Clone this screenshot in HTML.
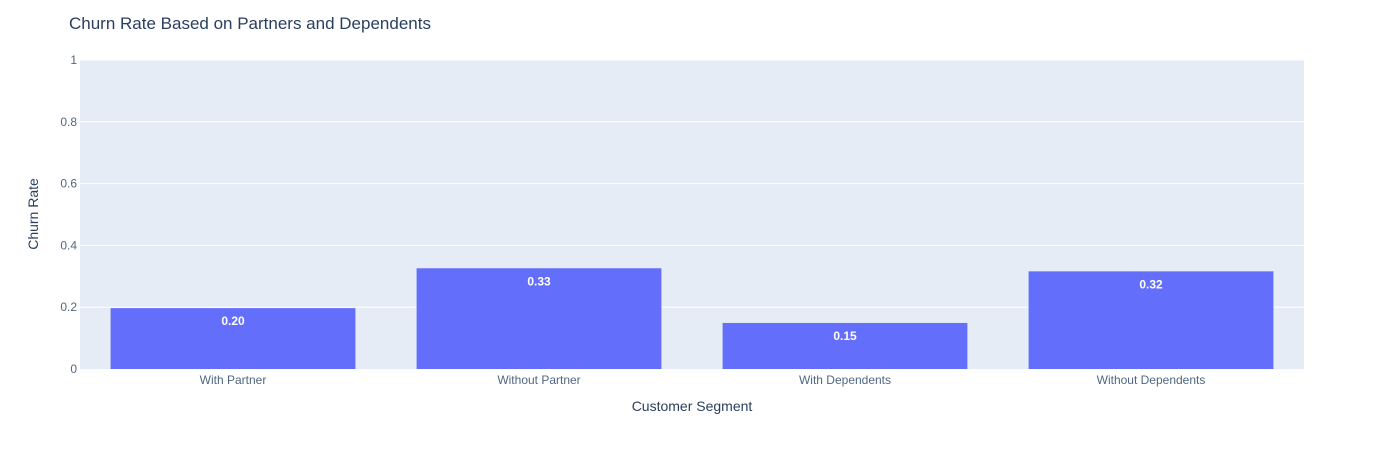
<!DOCTYPE html>
<html><head><meta charset="utf-8"><style>
body{margin:0;background:#fff;}
svg{display:block;font-family:"Liberation Sans",sans-serif;}
</style></head><body>
<svg id="chart" width="1384" height="450">
<rect x="0" y="0" width="1384" height="450" fill="#fff"/>
<text x="69" y="29" font-size="17" fill="#2a3f5f">Churn Rate Based on Partners and Dependents</text>
<rect x="80" y="60" width="1224" height="309" fill="#e5ecf6"/>
<g id="grid"></g><g id="bars"></g><g id="xt"></g>
<text x="692" y="411" font-size="14" fill="#2a3f5f" text-anchor="middle">Customer Segment</text>
<text transform="translate(38,214) rotate(-90)" font-size="14" fill="#2a3f5f" text-anchor="middle">Churn Rate</text>
</svg>
<script>
const categories = ["With Partner","Without Partner","With Dependents","Without Dependents"];
const values = [0.197, 0.326, 0.149, 0.316];
const yTicks = [0, 0.2, 0.4, 0.6, 0.8, 1];
const yTickLabels = ["0","0.2","0.4","0.6","0.8","1"];
const NS="http://www.w3.org/2000/svg";
const L=80,R=1304,T=60,B=369;
const y=v=>B-(v/1)*(B-T);
const step=(R-L)/categories.length;
const x=i=>L+step*i+step/2;
function mk(t,a,p){const e=document.createElementNS(NS,t);for(const k in a)e.setAttribute(k,a[k]);p.appendChild(e);return e;}
const grid=document.getElementById('grid');
yTicks.forEach((t,i)=>{
  if(t>0){const l=mk('line',{x1:L,x2:R,y1:y(t),y2:y(t),stroke:'#fff','stroke-width':1},grid);
  
  }
  const tx=mk('text',{x:L-3,y:y(t)+4,'font-size':12,fill:'#506784','text-anchor':'end'},grid);
  tx.textContent=yTickLabels[i];
  
  
});
const bars=document.getElementById('bars'),xt=document.getElementById('xt');
const bw=step*0.8;
values.forEach((v,i)=>{
  const r=mk('rect',{x:x(i)-bw/2,y:y(v),width:bw,height:B-y(v),fill:'#636efa'},bars);
  
  
  const t=mk('text',{x:x(i),y:y(v)+17,'font-size':12,'font-weight':'bold',fill:'#fff','text-anchor':'middle'},bars);
  t.textContent=v.toFixed(2);
  
  
  const c=mk('text',{x:x(i),y:B+15,'font-size':12,fill:'#506784','text-anchor':'middle'},xt);
  c.textContent=categories[i];
  
  
});
</script>
</body></html>
